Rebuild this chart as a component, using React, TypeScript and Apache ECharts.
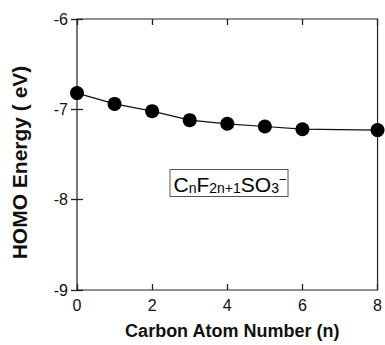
import React, { useEffect, useRef } from "react";
import * as echarts from "echarts";

const carbonNumbers = [0, 1, 2, 3, 4, 5, 6, 8];
const homoEnergy = [-6.82, -6.94, -7.02, -7.12, -7.16, -7.19, -7.22, -7.23];
const xTicks = [0, 2, 4, 6, 8];
const yTicks = [-9, -8, -7, -6];

export default function App() {
  const ref = useRef<HTMLDivElement>(null);
  useEffect(() => {
    if (!ref.current) return;
    const chart = echarts.init(ref.current, undefined, { renderer: "svg" });
    const font = "Arial, 'Liberation Sans', sans-serif";
    const tickLabel = { color: "#111", fontSize: 16, fontFamily: font };
    const tick = { show: true, inside: true, length: 6, lineStyle: { color: "#222", width: 1.3 } };
    chart.setOption({
      animation: false,
      backgroundColor: "#fff",
      grid: {
        left: 77,
        right: 4,
        top: 19,
        bottom: 46,
        show: true,
        borderColor: "#222",
        borderWidth: 1.2,
      },
      xAxis: [
        {
          type: "value",
          min: xTicks[0],
          max: xTicks[xTicks.length - 1],
          interval: 2,
          position: "bottom",
          name: "Carbon Atom Number (n)",
          nameLocation: "middle",
          nameGap: 32,
          nameTextStyle: { color: "#111", fontSize: 18, fontWeight: "bold", fontFamily: font, padding: [0, 0, 0, 10] },
          axisLine: { show: false },
          axisTick: tick,
          axisLabel: { ...tickLabel, margin: 7 },
          splitLine: { show: false },
        },
        {
          type: "value",
          min: xTicks[0],
          max: xTicks[xTicks.length - 1],
          interval: 2,
          position: "top",
          axisLine: { show: false },
          axisTick: tick,
          axisLabel: { show: false },
          splitLine: { show: false },
        },
      ],
      yAxis: [
        {
          type: "value",
          min: yTicks[0],
          max: yTicks[yTicks.length - 1],
          interval: 1,
          position: "left",
          name: "HOMO Energy ( eV)",
          nameLocation: "middle",
          nameGap: 47,
          nameTextStyle: { color: "#111", fontSize: 21, fontWeight: "bold", fontFamily: font, padding: [0, 16, 0, 0] },
          axisLine: { show: false },
          axisTick: tick,
          axisLabel: { ...tickLabel, margin: 9 },
          splitLine: { show: false },
        },
        {
          type: "value",
          min: yTicks[0],
          max: yTicks[yTicks.length - 1],
          interval: 1,
          position: "right",
          axisLine: { show: false },
          axisTick: tick,
          axisLabel: { show: false },
          splitLine: { show: false },
        },
      ],
      series: [
        {
          type: "line",
          data: carbonNumbers.map((n, i) => [n, homoEnergy[i]]),
          symbol: "circle",
          symbolSize: 14,
          itemStyle: { color: "#000" },
          lineStyle: { color: "#111", width: 1.2 },
          clip: false,
        },
      ],
      graphic: [
        {
          type: "text",
          x: 229,
          y: 183,
          style: {
            text: "{a|C}{s|n}{a|F}{s|2n+1}{a|SO}{s|3}{p|−}",
            x: 0,
            y: 0,
            align: "center",
            verticalAlign: "middle",
            borderColor: "#555",
            borderWidth: 1,
            padding: [3, 1, 1, 3],
            backgroundColor: "#fff",
            rich: {
              a: { fontSize: 21, fontFamily: font, color: "#111", lineHeight: 22, verticalAlign: "bottom" },
              s: { fontSize: 14, fontFamily: font, color: "#111", lineHeight: 14, verticalAlign: "bottom" },
              p: { fontSize: 13, fontFamily: font, color: "#111", lineHeight: 13, verticalAlign: "top", padding: [0, 0, 10, 0] },
            },
          },
        },
      ],
    });
    return () => chart.dispose();
  }, []);
  return <div ref={ref} style={{ width: 385, height: 345, position: "absolute", left: 0, top: 0 }} />;
}
